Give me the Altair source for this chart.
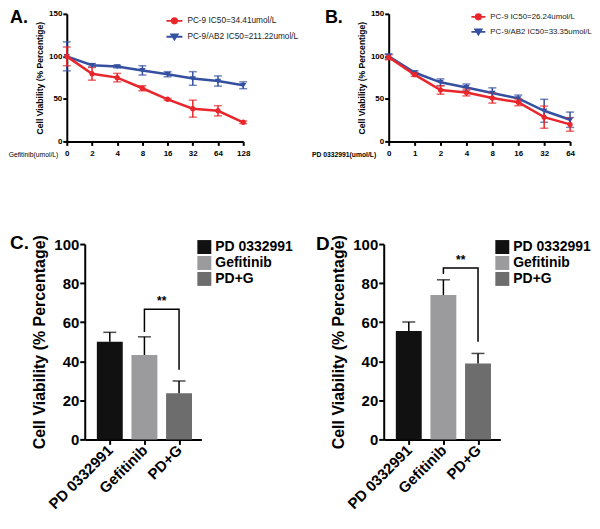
import json
import altair as alt
import pandas as pd

# ---------------- data ----------------
A_doses = ["0", "2", "4", "8", "16", "32", "64", "128"]
A_pc9 = [100, 79.5, 75, 62.5, 49.5, 38.5, 36, 22.5]
A_pc9_err = [11, 7.5, 5, 3, 1, 10, 6, 1.5]
A_ab2 = [100, 89.5, 88, 83.5, 79, 74, 71, 66]
A_ab2_err = [17, 2, 1.5, 5.5, 3, 8, 6, 4]
A_names = ["PC-9 IC50=34.41umol/L", "PC-9/AB2 IC50=211.22umol/L"]

B_doses = ["0", "1", "2", "4", "8", "16", "32", "64"]
B_pc9 = [99, 78.5, 60.5, 57.5, 51, 46, 28.5, 20]
B_pc9_err = [3, 2, 5, 4, 6, 4, 13, 8]
B_ab2 = [100, 81, 69.5, 63.5, 57, 50.5, 36, 25.5]
B_ab2_err = [3, 2, 4, 4, 6, 4, 13.5, 9]
B_names = ["PC-9 IC50=26.24umol/L", "PC-9/AB2 IC50=33.35umol/L"]

bar_cats = ["PD 0332991", "Gefitinib", "PD+G"]
C_means = [50, 43.2, 23.6]
C_err = [4.8, 9.3, 6.3]
C_bracket_x = [1, 1, 2, 2]
C_bracket_y = [55, 66.6, 66.6, 35.6]
C_star = [1.5, 70.8]

D_means = [55.5, 73.9, 38.9]
D_err = [4.6, 7.8, 5.1]
D_bracket_x = [1, 1, 2, 2]
D_bracket_y = [84.7, 87.8, 87.8, 50]
D_star = [1.5, 91.9]

# ---------------- styles ----------------
RED = "#e8262b"
BLUE = "#3550a0"
BAR_COLORS = ["#111111", "#9b9b9d", "#6d6d6d"]
SANS = "Liberation Sans, Arial, Helvetica, sans-serif"


def circ_path(half):
    r = 2.7 / half
    return f"M-1,0H1M{r:.3f},0A{r:.3f},{r:.3f} 0 1,1 {-r:.3f},0A{r:.3f},{r:.3f} 0 1,1 {r:.3f},0Z"


def tri_path(half):
    w = 3.2 / half
    t = 2.3 / half
    b = 2.8 / half
    return f"M-1,0H1M{-w:.3f},{-t:.3f}L{w:.3f},{-t:.3f}L0,{b:.3f}Z"


def letter_layer(letter, dx, dy, size):
    return alt.Chart(alt.Data(values=[{}])).mark_text(
        text=letter, font=SANS, fontSize=size, fontWeight="bold",
        align="left", baseline="top", color="black"
    ).encode(x=alt.value(dx), y=alt.value(dy))


def line_panel(letter, doses, names, v1, e1, v2, e2, xtitle, xtitle_weight,
               width, shift, sym, legX, legY, rowpad, legfont, letX, letY, titleX):
    rows = []
    for name, vals, errs in [(names[1], v2, e2), (names[0], v1, e1)]:
        for i, (v, e) in enumerate(zip(vals, errs)):
            rows.append(dict(x=i, series=name, y=v, lo=v - e, hi=v + e))
    df = pd.DataFrame(rows)

    x_axis = alt.Axis(
        values=list(range(len(doses))),
        labelExpr=f"{json.dumps(doses)}[datum.value]",
        labelFont=SANS, labelFontSize=8, labelFontWeight="bold", labelColor="black",
        labelPadding=4, labelAngle=0, labelFlush=False, labelOverlap=False,
        tickSize=4, tickWidth=2, tickColor="black", domainWidth=2, domainColor="black",
        grid=False, title=xtitle, titleFont=SANS, titleFontSize=6.8,
        titleFontWeight=xtitle_weight, titleColor="black", titleX=titleX, titleY=13,
        titleAlign="right", titleBaseline="middle", titleAngle=0,
    )
    y_axis = alt.Axis(
        values=[0, 50, 100, 150], labelFont=SANS, labelFontSize=8,
        labelFontWeight="bold", labelColor="black", labelPadding=1, offset=shift,
        tickSize=4, tickWidth=2, tickColor="black", domainWidth=2, domainColor="black",
        grid=False, title="Cell Viability (% Percentige)", titleFont=SANS,
        titleFontSize=8.6, titleFontWeight="bold", titleColor="black", titlePadding=4,
    )
    xs = alt.Scale(domain=[0, len(doses) - 1], nice=False, zero=False,
                   range=[-shift, width - shift])
    ys = alt.Scale(domain=[0, 150], nice=False)
    cs = alt.Scale(domain=names, range=[RED, BLUE])
    shp = alt.Scale(domain=names, range=[circ_path(sym / 2), tri_path(sym / 2)])
    leg = alt.Legend(
        title=None, orient="none", legendX=legX, legendY=legY, padding=0,
        labelFont=SANS, labelFontSize=legfont, labelFontWeight="normal", labelColor="#222222",
        labelOffset=4, rowPadding=rowpad, symbolSize=sym * sym, symbolStrokeWidth=1.8,
        symbolOpacity=1,
    )
    X = alt.X("x:Q", scale=xs, axis=x_axis)
    base = alt.Chart(df)
    layers = []
    for name, col in [(names[1], BLUE), (names[0], RED)]:
        sub = base.transform_filter(alt.datum.series == name)
        layers.append(sub.mark_line(strokeWidth=2.5, color=col).encode(
            x=X, y=alt.Y("y:Q", scale=ys, axis=y_axis)))
        layers.append(sub.mark_rule(strokeWidth=1.5, color=col).encode(
            x=X, y=alt.Y("lo:Q", scale=ys, axis=y_axis), y2="hi:Q"))
        for f in ["lo", "hi"]:
            layers.append(sub.mark_tick(orient="horizontal", size=8, thickness=1.5, color=col).encode(
                x=X, y=alt.Y(f"{f}:Q", scale=ys, axis=y_axis)))
    pts = base.mark_point(filled=True, size=sym * sym, strokeWidth=0, opacity=1).encode(
        x=X, y=alt.Y("y:Q", scale=ys, axis=y_axis),
        color=alt.Color("series:N", scale=cs, legend=leg),
        shape=alt.Shape("series:N", scale=shp, legend=leg),
        stroke=alt.Stroke("series:N", scale=cs, legend=leg),
    )
    layers.append(pts)
    layers.append(letter_layer(letter, letX, letY, 18))
    return alt.layer(*layers).properties(width=width - shift, height=128)


def bar_panel(letter, means, errs, bx, by, star, legX, letX, letY):
    df = pd.DataFrame({"x": list(range(len(bar_cats))), "cat": bar_cats,
                       "y": means, "hi": [m + e for m, e in zip(means, errs)]})
    br = pd.DataFrame({"x": bx, "y": by, "k": list(range(len(bx)))})
    st = pd.DataFrame({"x": [star[0]], "y": [star[1]]})
    xs = alt.Scale(domain=[-0.58, 2.5], nice=False, zero=False)
    ys = alt.Scale(domain=[0, 100], nice=False)
    x_axis = alt.Axis(
        values=list(range(len(bar_cats))),
        labelExpr=f"{json.dumps(bar_cats)}[datum.value]",
        labelFont=SANS, labelFontSize=15, labelFontWeight="bold", labelColor="black",
        labelAngle=-45, labelAlign="right", labelBaseline="middle", labelPadding=3,
        labelFlush=False, labelOverlap=False, labelBound=False,
        tickSize=5, tickWidth=2, tickColor="black", domainWidth=2, domainColor="black",
        grid=False, title=None,
    )
    y_axis = alt.Axis(
        values=[0, 20, 40, 60, 80, 100], labelFont=SANS, labelFontSize=15,
        labelFontWeight="bold", labelColor="black", labelPadding=1,
        tickSize=5, tickWidth=2, tickColor="black", domainWidth=2, domainColor="black",
        grid=False, title="Cell Viability (% Percentage)", titleFont=SANS,
        titleFontSize=16, titleFontWeight="bold", titleColor="black", titlePadding=6,
    )
    X = alt.X("x:Q", scale=xs, axis=x_axis)
    leg = alt.Legend(
        title=None, orient="none", legendX=legX, legendY=-4, padding=0,
        labelFont=SANS, labelFontSize=14, labelFontWeight="bold", labelColor="black",
        labelOffset=4, rowPadding=2, symbolType="square", symbolSize=196,
        symbolStrokeWidth=0, symbolOpacity=1,
    )
    bars = alt.Chart(df).mark_bar(size=26, orient="vertical").encode(
        x=X, y=alt.Y("y:Q", scale=ys, axis=y_axis),
        color=alt.Color("cat:N", scale=alt.Scale(domain=bar_cats, range=BAR_COLORS), legend=leg),
    )
    err = alt.Chart(df).mark_rule(strokeWidth=1.5, color="black").encode(
        x=X, y=alt.Y("y:Q", scale=ys, axis=y_axis), y2="hi:Q")
    cap = alt.Chart(df).mark_tick(orient="horizontal", size=13, thickness=1.5, color="black").encode(
        x=X, y=alt.Y("hi:Q", scale=ys, axis=y_axis))
    bracket = alt.Chart(br).mark_line(strokeWidth=1.5, color="black").encode(
        x=X, y=alt.Y("y:Q", scale=ys, axis=y_axis), order="k:Q")
    stars = alt.Chart(st).mark_text(text="**", font=SANS, fontSize=12, fontWeight="bold",
                                     color="black", baseline="middle").encode(
        x=X, y=alt.Y("y:Q", scale=ys, axis=y_axis))
    lt = letter_layer(letter, letX, letY, 19)
    return alt.layer(bars, err, cap, bracket, stars, lt).properties(width=117, height=196)


# A's plot origin lines up with C's (page x 83); its axis sits 18px further left.
A = line_panel("A.", A_doses, A_names, A_pc9, A_pc9_err, A_ab2, A_ab2_err,
               "Gefitinib(umol/L)", "normal", 177, 18, 16, 81, -2, 0, 8.3, -75, -5, -27)
B = line_panel("B.", B_doses, B_names, B_pc9, B_pc9_err, B_ab2, B_ab2_err,
               "PD 0332991(umol/L)", "bold", 182, 0, 14, 82, -5, -1, 7.9, -64, -5, -13)
C = bar_panel("C.", C_means, C_err, C_bracket_x, C_bracket_y, C_star, 113, -75, -10)
D = bar_panel("D.", D_means, D_err, D_bracket_x, D_bracket_y, D_star, 112, -68, -9)

IND = dict(color="independent", shape="independent", stroke="independent")
top = alt.hconcat(A, B, spacing=12).resolve_scale(**IND).resolve_legend(**IND)
bottom = alt.hconcat(C, D, spacing=23).resolve_scale(**IND).resolve_legend(**IND)
chart = (alt.vconcat(top, bottom, spacing=76)
         .resolve_scale(**IND).resolve_legend(**IND)
         .properties(padding=0).configure_view(stroke=None))

chart.save("out.html", embed_options={"renderer": "svg", "actions": False})
